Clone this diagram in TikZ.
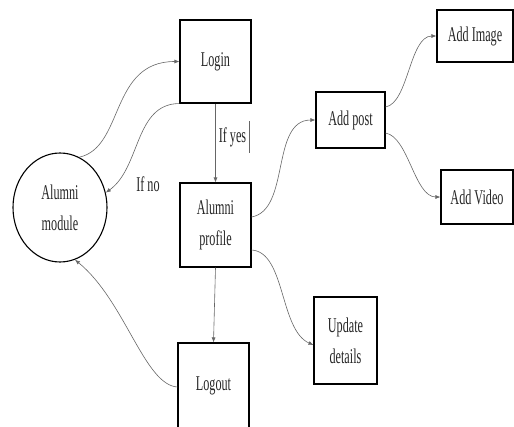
\documentclass[tikz,border=0pt]{standalone}
\usepackage{fontspec}
\setmainfont[FakeStretch=0.58]{Liberation Serif}
\usetikzlibrary{arrows.meta,shapes.geometric}
\begin{document}
\begin{tikzpicture}[x=1pt,y=-1pt,
  txt/.style={font=\fontsize{21}{31}\selectfont, text=black!85},
  box/.style={txt, draw=black, line width=1.1pt, inner sep=0pt, align=center},
  conn/.style={draw=black!60, line width=0.6pt, -{Latex[length=5pt,width=4pt]}},
  plain/.style={draw=black!60, line width=0.6pt}]
\useasboundingbox (0,0) rectangle (514,426);
\clip (0,0) rectangle (514,426);
% nodes
\node[box, shape=ellipse, minimum width=94pt, minimum height=109pt] (alumni) at (60,207.5) {Alumni\\module};
\node[box, minimum width=71pt, minimum height=83pt] (login) at (215.5,61.5) {\raisebox{4pt}{Login}};
\node[box, minimum width=71pt, minimum height=84pt] (profile) at (215.5,225) {Alumni\\profile};
\node[box, minimum width=71pt, minimum height=88pt] (logout) at (213.5,387) {\raisebox{7pt}{Logout}};
\node[box, minimum width=69pt, minimum height=56pt] (addpost) at (350.5,120) {Add post};
\node[box, minimum width=76pt, minimum height=52pt] (addimage) at (475,36) {Add Image};
\node[box, minimum width=72pt, minimum height=54pt] (addvideo) at (477,197) {Add Video};
\node[box, minimum width=63pt, minimum height=87pt] (update) at (345.5,340.5) {Update\\details};
% connectors
\draw[conn] (alumni.69) .. controls +(45,-10) and +(-70,0) .. (login.west);
\draw[conn] (login.south west) .. controls +(-45,0) and +(35,-25) .. (alumni.18);
\node[txt, inner sep=0pt] (ifno) at (148,184) {If no};
\draw[conn] (login.south) -- node[txt, pos=0.43, right, inner sep=0pt, xshift=3pt] (ifyes) {If yes} (profile.north);
\draw[plain] ([xshift=3pt,yshift=16]ifyes.east) -- ([xshift=3pt,yshift=-16]ifyes.east);
\draw[conn] ([yshift=8]profile.east) .. controls +(39,-7) and +(-45,0) .. (addpost.west);
\draw[conn] ([yshift=13]addpost.east) .. controls +(23,-4) and +(-27,0) .. (addimage.west);
\draw[conn] ([yshift=-13]addpost.east) .. controls +(23,4) and +(-26,0) .. (addvideo.west);
\draw[conn] ([yshift=-25]profile.east) .. controls +(34,2) and +(-34,-15) .. ([yshift=-4.5]update.west);
\draw[conn] (profile.south) -- (logout.north);
\draw[conn] (logout.west) .. controls +(-33,-2) and +(50,41) .. (alumni.-74);
\end{tikzpicture}
\end{document}
